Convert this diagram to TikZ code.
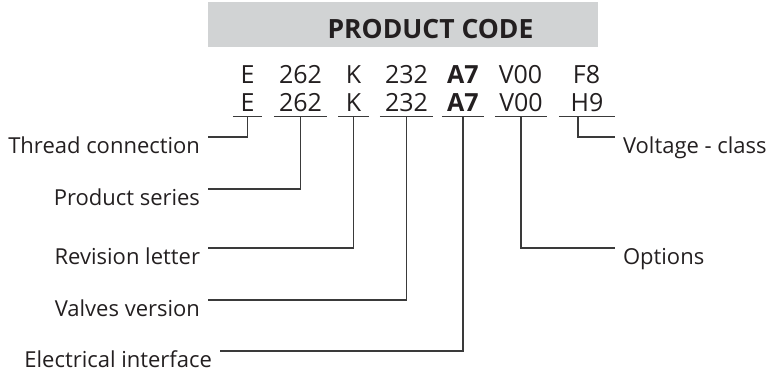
\documentclass[tikz,border=0pt]{standalone}
\usepackage{fontspec}
\setmainfont{Open Sans}
\usetikzlibrary{positioning}
\definecolor{BarGray}{HTML}{D1D3D4}
\definecolor{InkDark}{HTML}{231F20}
\definecolor{LineDark}{HTML}{3A3A3A}

\begin{document}
\begin{tikzpicture}[
    x=1pt, y=-1pt,
    bar/.style={rectangle, fill=BarGray, minimum width=390pt, minimum height=45pt, inner sep=0pt},
    title/.style={anchor=base, font=\fontsize{26.5}{30}\selectfont\bfseries, text=InkDark, inner sep=0pt},
    code/.style={anchor=base, font=\fontsize{25}{30}\selectfont, text=InkDark, inner xsep=0pt, inner ysep=0pt},
    ucode/.style={code, text depth=4pt},
    lbl/.style={font=\fontsize{22}{26}\selectfont, text=InkDark, inner sep=0pt, outer xsep=8pt, outer ysep=0pt},
    lnk/.style={line width=1.2pt, LineDark}
  ]
    \useasboundingbox (0,0) rectangle (768,374);

    % header bar
    \node[bar] (bar) at (403,24.5) {};
    \node[title] (title) at (430.5,38.5) {PRODUCT CODE};

    % example code
    \node[code] (cE) at (247.5,84) {E};
    \node[code] (cser) at (300.5,84) {262};
    \node[code] (crev) at (353.5,84) {K};
    \node[code] (cval) at (406.5,84) {232};
    \node[code, font=\fontsize{25}{30}\selectfont\bfseries] (cele) at (463,84) {A7};
    \node[code] (copt) at (520.5,84) {V00};
    \node[code] (cvol) at (586.5,84) {F8};

    % code with fields
    \node[ucode, minimum width=29pt] (thr) at (247.5,112) {E};
    \node[ucode, minimum width=53pt] (ser) at (300.5,112) {262};
    \node[ucode, minimum width=30pt] (rev) at (353.5,112) {K};
    \node[ucode, minimum width=53pt] (val) at (406.5,112) {232};
    \node[ucode, minimum width=42pt, font=\fontsize{25}{30}\selectfont\bfseries] (ele) at (463,112) {A7};
    \node[ucode, minimum width=52pt] (opt) at (521,112) {V00};
    \node[ucode, minimum width=56pt] (vol) at (587,112) {H9};

    \draw[lnk] (thr.south west) -- (thr.south east);
    \draw[lnk] (ser.south west) -- (ser.south east);
    \draw[lnk] (rev.south west) -- (rev.south east);
    \draw[lnk] (val.south west) -- (val.south east);
    \draw[lnk] (ele.south west) -- (ele.south east);
    \draw[lnk] (opt.south west) -- (opt.south east);
    \draw[lnk] (vol.south west) -- (vol.south east);

    % field names
    \node[lbl, anchor=north east] (lthr) at (208,137) {Thread connection};
    \node[lbl, anchor=north east] (lser) at (208,189) {Product series};
    \node[lbl, anchor=north east] (lrev) at (208,248) {Revision letter};
    \node[lbl, anchor=north east] (lval) at (208,300) {Valves version};
    \node[lbl, anchor=north east] (lele) at (220,351) {Electrical interface};
    \node[lbl, anchor=north west] (lopt) at (615,248) {Options};
    \node[lbl, anchor=north west] (lvol) at (615,137) {Voltage - class};

    \draw[lnk] (thr.south) |- (lthr.north east);
    \draw[lnk] (ser.south) |- (lser.north east);
    \draw[lnk] (rev.south) |- (lrev.north east);
    \draw[lnk] (val.south) |- (lval.north east);
    \draw[lnk] (ele.south) |- (lele.north east);
    \draw[lnk] (opt.south) |- (lopt.north west);
    \draw[lnk] ([xshift=-9pt]vol.south) |- (lvol.north west);
\end{tikzpicture}
\end{document}
